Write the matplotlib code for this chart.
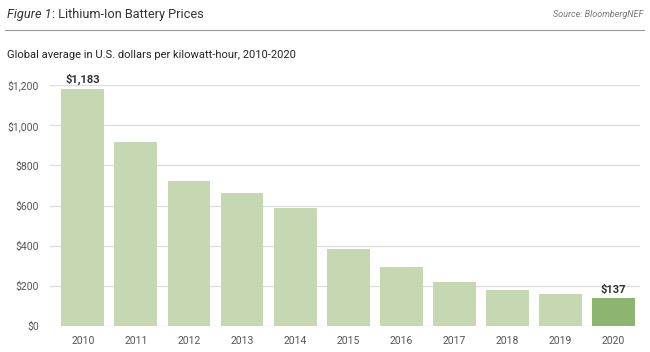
import matplotlib
matplotlib.use("Agg")
import matplotlib.pyplot as plt
from matplotlib.ticker import FuncFormatter

plt.rcParams['font.family'] = ['Roboto', 'DejaVu Sans']

# 数据
years = ['2010', '2011', '2012', '2013', '2014', '2015', '2016', '2017', '2018', '2019', '2020']
prices = [1183, 917, 721, 663, 588, 384, 295, 221, 181, 157, 137]
y_ticks = [0, 200, 400, 600, 800, 1000, 1200]

light_green = '#c5d8b2'
dark_green = '#8db56f'
grey_text = '#555555'

fig = plt.figure(figsize=(6.5, 3.52), dpi=100)
fig.patch.set_facecolor('white')

# 标题区域: 斜体部分后面紧跟正体部分
t1 = fig.text(0.011, 0.958, 'Figure 1', fontsize=9.2, style='italic', color='#333333', va='center')
fig.canvas.draw()
bb = t1.get_window_extent().transformed(fig.transFigure.inverted())
fig.text(bb.x1 + 0.001, 0.958, ': Lithium-Ion Battery Prices', fontsize=9.2, color='#333333', va='center')
fig.text(0.99, 0.958, 'Source: BloombergNEF', fontsize=6.5, style='italic', color='#777777',
         va='center', ha='right')
fig.add_artist(plt.Line2D([0.008, 0.99], [0.915, 0.915], color='#999999', lw=0.8))
fig.text(0.011, 0.843, 'Global average in U.S. dollars per kilowatt-hour, 2010-2020',
         fontsize=8, color='#222222', va='center')

ax = fig.add_axes([0.077, 0.074, 0.908, 0.684])
colors = [light_green] * (len(years) - 1) + [dark_green]
x = range(len(years))
ax.bar(x, prices, width=0.81, color=colors, zorder=2)

# 首尾数值标注
for i in (0, len(years) - 1):
    ax.text(i, prices[i] + 18, '${:,}'.format(prices[i]), ha='center', va='bottom',
            fontsize=8, fontweight='bold', color='#333333', clip_on=False)

ax.set_xlim(-0.62, 10.51)
ax.set_ylim(0, 1200)
ax.set_yticks(y_ticks)
ax.yaxis.set_major_formatter(FuncFormatter(lambda v, p: '${:,.0f}'.format(v)))
ax.set_xticks(list(x))
ax.set_xticklabels(years)
ax.grid(axis='y', color='#dddddd', lw=0.9, zorder=0)
ax.tick_params(length=0, labelsize=7.5, labelcolor=grey_text)
ax.tick_params(axis='y', pad=8)
ax.tick_params(axis='x', pad=7)
for s in ax.spines.values():
    s.set_visible(False)

fig.savefig('out.png', dpi=100)
